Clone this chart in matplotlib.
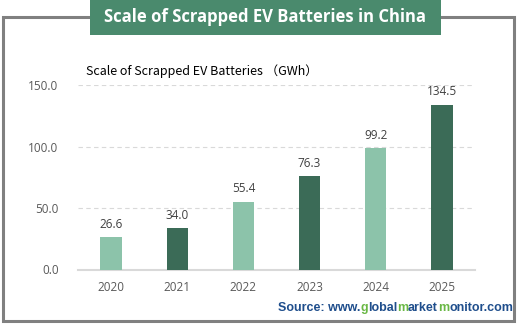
import matplotlib.pyplot as plt
from matplotlib.patches import Rectangle

years = ["2020", "2021", "2022", "2023", "2024", "2025"]
values = [26.6, 34.0, 55.4, 76.3, 99.2, 134.5]
bar_colors = ["#8cc3aa", "#3b6b57", "#8cc3aa", "#3b6b57", "#8cc3aa", "#3b6b57"]
yticks = [0, 50, 100, 150]
source_parts = ["Source: www.", "g", "lobal", "m", "arket", "m", "onitor.com"]

W, H = 529, 328
fig = plt.figure(figsize=(W / 100, H / 100), dpi=100)
plt.rcParams['font.family'] = ['Open Sans', 'DejaVu Sans']

# outer frame
fig.patches.append(Rectangle((3 / W, 1 - 321 / H), 511 / W, 304 / H,
                             transform=fig.transFigure, fill=False,
                             edgecolor="#808080", linewidth=2.2, zorder=1))

# title box
fig.patches.append(Rectangle((90 / W, 1 - 35 / H), 351 / W, 35 / H,
                             transform=fig.transFigure, facecolor="#4a8a6d",
                             edgecolor="none", zorder=2))
fig.text(265.5 / W, 1 - 17.5 / H, "Scale of Scrapped EV Batteries in China",
         color="white", fontsize=12, fontweight="bold", ha="center",
         va="center", zorder=3)

ax = fig.add_axes([78 / W, 1 - 269.5 / H, 397 / W, 184 / H])
x = range(len(years))
ax.bar(x, values, width=0.32, color=bar_colors, zorder=3)
for i, v in enumerate(values):
    ax.text(i, v + 5, f"{v:.1f}", ha="center", va="bottom",
            fontsize=8.5, color="#404040")

ax.set_xlim(-0.5, len(years) - 0.5)
ax.set_ylim(0, 150)
ax.set_xticks(list(x))
ax.set_xticklabels(years)
ax.set_yticks(yticks)
ax.set_yticklabels([f"{t:.1f}" for t in yticks])
ax.tick_params(length=0, labelsize=8.5, colors="#595959")
ax.tick_params(axis="y", pad=14)
ax.tick_params(axis="x", pad=8)
for s in ["top", "right", "left"]:
    ax.spines[s].set_visible(False)
ax.spines["bottom"].set_color("#d9d9d9")
ax.spines["bottom"].set_linewidth(1.5)
ax.grid(axis="y", color="#d9d9d9", linestyle=(0, (4, 3)), linewidth=0.8)
ax.set_axisbelow(True)

fig.text(86 / W, 1 - 71 / H, "Scale of Scrapped EV Batteries （GWh）",
         fontsize=9, color="#000000", ha="left", va="center",
         family=["Noto Sans CJK SC", "DejaVu Sans"])

# source line, pieces laid side by side (odd pieces green)
blue, green = "#1f4e8c", "#6ab845"
src_props = dict(fontsize=9, fontweight="bold", family="Liberation Sans")
r = fig.canvas.get_renderer()


def text_w(s):
    t = fig.text(0, 0, s, **src_props)
    w = t.get_window_extent(r).width
    t.remove()
    return w


full = "".join(source_parts)
x0 = 513 - text_w(full)
y0 = 1 - 311 / H
prefix = ""
for k, part in enumerate(source_parts):
    # where this piece starts inside the full string
    w = text_w(prefix + part) - text_w(part) if prefix else 0
    fig.text((x0 + w) / W, y0, part, color=green if k % 2 else blue,
             ha="left", va="baseline", **src_props)
    prefix += part

fig.savefig("out.png", dpi=100)
